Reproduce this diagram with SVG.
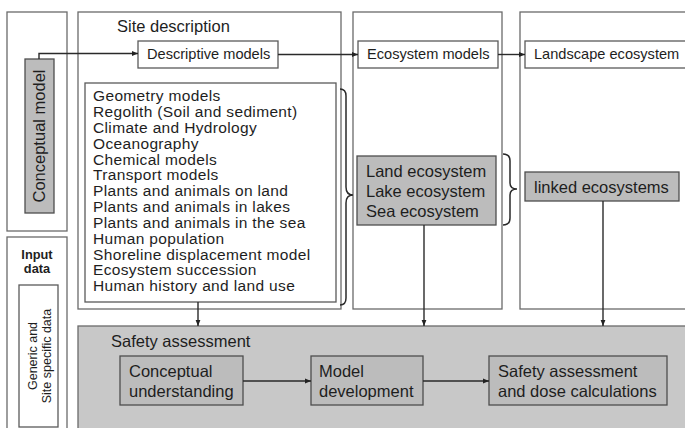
<svg xmlns="http://www.w3.org/2000/svg" width="685" height="428" viewBox="0 0 685 428">
<defs>
<marker id="ah" viewBox="0 0 10 10" refX="10" refY="5" markerWidth="6" markerHeight="6" orient="auto" markerUnits="userSpaceOnUse">
<path d="M0,1 L10,5 L0,9 z" fill="#222"/>
</marker>
<style>
text{font-family:"Liberation Sans",Arial,sans-serif;fill:#1e1e1e}
.col{fill:#fff;stroke:#6a6a6a;stroke-width:1.3}
.wbox{fill:#fff;stroke:#5a5a5a;stroke-width:1.3}
.gbox{fill:#bcbcbc;stroke:#4e4e4e;stroke-width:1.3}
.t15{font-size:14.6px}
.t16{font-size:16.5px}
.lst{font-size:15.5px;letter-spacing:0.35px}
.conn{fill:none;stroke:#2a2a2a;stroke-width:1.4}
.brace{fill:none;stroke:#2a2a2a;stroke-width:1.5}
</style>
</defs>
<rect width="685" height="428" fill="#fff"/>

<g id="conceptual">
<rect class="col" x="7" y="12" width="60" height="219"/>
<rect class="gbox" x="25" y="59" width="29" height="154" fill="#b5b5b5"/>
<text class="t16" transform="translate(45,136) rotate(-90)" text-anchor="middle">Conceptual model</text>
</g>

<g id="input">
<rect class="col" x="7" y="237" width="60" height="195"/>
<text x="37" y="259" font-size="12.8" font-weight="bold" text-anchor="middle">Input</text>
<text x="37" y="273" font-size="12.8" font-weight="bold" text-anchor="middle">data</text>
<rect class="wbox" x="19" y="285" width="39" height="142"/>
<text font-size="12.5" transform="translate(37,356) rotate(-90)" text-anchor="middle">Generic and</text>
<text font-size="12.5" transform="translate(51,356) rotate(-90)" text-anchor="middle">Site specific data</text>
</g>

<g id="site">
<rect class="col" x="78" y="12" width="263" height="297"/>
<text class="t16" x="117" y="32">Site description</text>
</g>

<g id="descriptive">
<rect class="wbox" x="138" y="41" width="140" height="27"/>
<text class="t15" x="147" y="59">Descriptive models</text>
</g>

<g id="list">
<rect class="wbox" x="85" y="83" width="251" height="219"/>
<g class="lst">
<text x="93" y="101">Geometry models</text>
<text x="93" y="117">Regolith (Soil and sediment)</text>
<text x="93" y="133">Climate and Hydrology</text>
<text x="93" y="148.5">Oceanography</text>
<text x="93" y="164.5">Chemical models</text>
<text x="93" y="180">Transport models</text>
<text x="93" y="196">Plants and animals on land</text>
<text x="93" y="212">Plants and animals in lakes</text>
<text x="93" y="228">Plants and animals in the sea</text>
<text x="93" y="243.5">Human population</text>
<text x="93" y="259.5">Shoreline displacement model</text>
<text x="93" y="275">Ecosystem succession</text>
<text x="93" y="291">Human history and land use</text>
</g>
</g>

<g id="ecosystem">
<rect class="col" x="353" y="12" width="149" height="297"/>
</g>

<g id="ecosystem-models">
<rect class="wbox" x="358" y="41" width="140" height="27"/>
<text class="t15" x="367" y="59">Ecosystem models</text>
</g>

<g id="ecosystems">
<rect class="gbox" x="357" y="156" width="139" height="69"/>
<text class="t16" x="366" y="177">Land ecosystem</text>
<text class="t16" x="366" y="197">Lake ecosystem</text>
<text class="t16" x="366" y="217">Sea ecosystem</text>
</g>

<g id="landscape">
<rect class="col" x="520" y="12" width="180" height="297"/>
</g>

<g id="landscape-ecosystem">
<rect class="wbox" x="525" y="41" width="170" height="27"/>
<text class="t15" x="534" y="59">Landscape ecosystem</text>
</g>

<g id="linked">
<rect class="gbox" x="525" y="172" width="154" height="29"/>
<text class="t16" x="534" y="193">linked ecosystems</text>
</g>

<g id="safety">
<rect x="78" y="326" width="620" height="110" fill="#c8c8c8" stroke="#6a6a6a" stroke-width="1.3"/>
<text class="t16" x="111" y="347">Safety assessment</text>
</g>

<g id="conceptual-understanding">
<rect class="gbox" x="120" y="356" width="123" height="49"/>
<text class="t16" x="129" y="377">Conceptual</text>
<text class="t16" x="129" y="397">understanding</text>
</g>

<g id="model-development">
<rect class="gbox" x="311" y="356" width="112" height="49"/>
<text class="t16" x="319" y="377">Model</text>
<text class="t16" x="319" y="397">development</text>
</g>

<g id="dose">
<rect class="gbox" x="489" y="356" width="178" height="49"/>
<text class="t16" x="498" y="377">Safety assessment</text>
<text class="t16" x="498" y="397">and dose calculations</text>
</g>

<g id="connectors">
<path class="conn" d="M39,59 V53.5 H138" marker-end="url(#ah)"/>
<path class="conn" d="M278,54.5 H358" marker-end="url(#ah)"/>
<path class="conn" d="M498,54.5 H525" marker-end="url(#ah)"/>
<path class="conn" d="M198,302 V326" marker-end="url(#ah)"/>
<path class="conn" d="M424,225 V326" marker-end="url(#ah)"/>
<path class="conn" d="M603,201 V326" marker-end="url(#ah)"/>
<path class="conn" d="M243,381 H311" marker-end="url(#ah)"/>
<path class="conn" d="M423,381 H489" marker-end="url(#ah)"/>
<path class="brace" d="M340,89 Q346,89 346,96 V187 Q346,195 353,195 Q346,195 346,203 V298 Q346,305 340,305"/>
<path class="brace" d="M503,154 Q510,154 510,161 V183 Q510,189 517,189 Q510,189 510,195 V218 Q510,225 503,225"/>
</g>
</svg>
